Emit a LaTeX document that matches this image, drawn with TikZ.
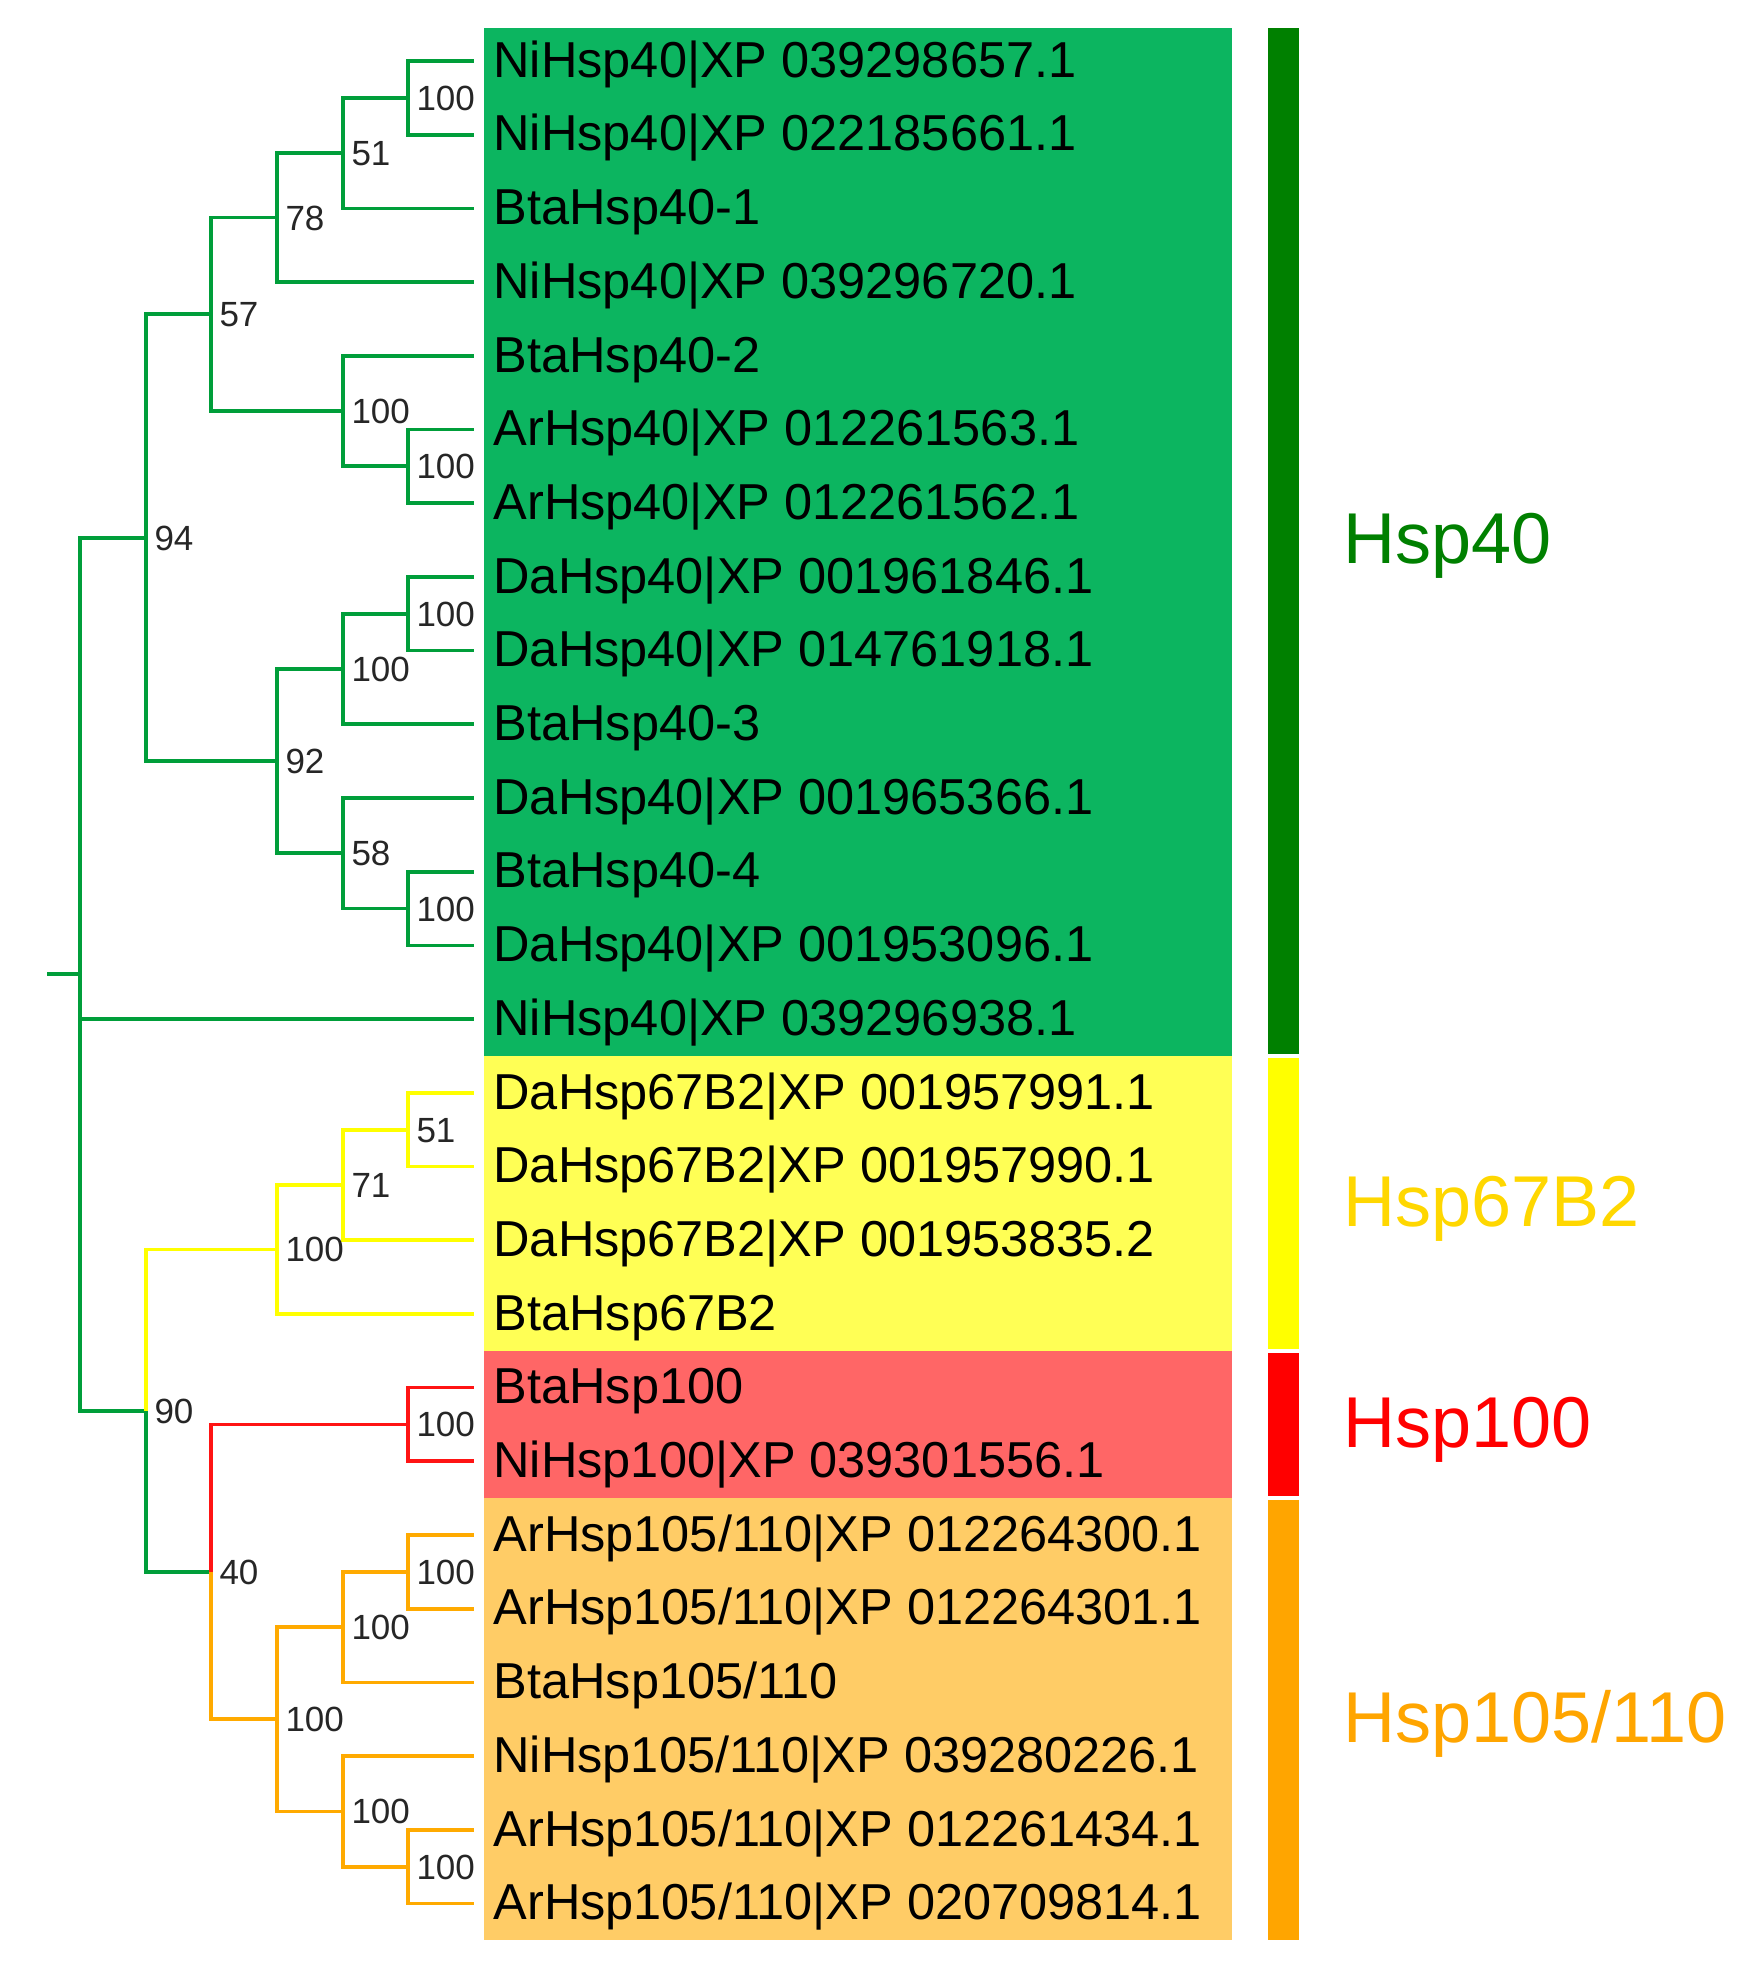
\documentclass[tikz,border=0pt]{standalone}
\usepackage{fontspec}
\setmainfont{Liberation Sans}
\definecolor{boxgreen}{RGB}{12,181,96}
\definecolor{boxyellow}{RGB}{255,255,85}
\definecolor{boxred}{RGB}{255,102,102}
\definecolor{boxorange}{RGB}{255,204,102}
\definecolor{bargreen}{RGB}{0,128,0}
\definecolor{baryellow}{RGB}{255,255,0}
\definecolor{barred}{RGB}{255,0,0}
\definecolor{barorange}{RGB}{255,165,0}
\definecolor{treegreen}{RGB}{0,158,58}
\definecolor{treeyellow}{RGB}{255,255,0}
\definecolor{treered}{RGB}{255,20,20}
\definecolor{treeorange}{RGB}{255,170,0}
\definecolor{labelgold}{RGB}{255,215,0}
\begin{document}
\begin{tikzpicture}[x=0.4pt, y=-29.48pt,
    branch/.style={line width=1.5pt},
    leaf/.style={anchor=base west, inner sep=0pt, xshift=7.6pt, yshift=-6.5pt,
        font=\fontsize{20.2pt}{22pt}\selectfont},
    boot/.style={anchor=base west, inner sep=0pt, xshift=3.2pt, yshift=-5pt,
        text=black!85, font=\fontsize{14pt}{15pt}\selectfont},
    group/.style={anchor=base west, inner sep=0pt, yshift=-9.4pt,
        font=\fontsize{28.8pt}{32pt}\selectfont}]
    \useasboundingbox (0,-0.8277) rectangle (1747,26.065);
    % hatter a nevek mogott
    \fill[boxgreen] (484,-0.45) rectangle (1232,13.5);
    \fill[boxyellow] (484,13.5) rectangle (1232,17.5);
    \fill[boxred] (484,17.5) rectangle (1232,19.5);
    \fill[boxorange] (484,19.5) rectangle (1232,25.5);
    % csoport savok jobb oldalt
    \fill[bargreen] (1268,-0.45) rectangle (1299,13.47);
    \fill[baryellow] (1268,13.53) rectangle (1299,17.47);
    \fill[barred] (1268,17.53) rectangle (1299,19.47);
    \fill[barorange] (1268,19.53) rectangle (1299,25.5);
    \node[group, text=bargreen] (g40) at (1343,6.5) {Hsp40};
    \node[group, text=labelgold] (g67) at (1343,15.5) {Hsp67B2};
    \node[group, text=barred] (g100) at (1343,18.5) {Hsp100};
    \node[group, text=barorange] (g105) at (1343,22.5) {Hsp105/110};
    % levelek
    \foreach \name [count=\i from 0] in {NiHsp40|XP 039298657.1, NiHsp40|XP 022185661.1,
        BtaHsp40-1, NiHsp40|XP 039296720.1, BtaHsp40-2, ArHsp40|XP 012261563.1,
        ArHsp40|XP 012261562.1, DaHsp40|XP 001961846.1, DaHsp40|XP 014761918.1,
        BtaHsp40-3, DaHsp40|XP 001965366.1, BtaHsp40-4, DaHsp40|XP 001953096.1,
        NiHsp40|XP 039296938.1, DaHsp67B2|XP 001957991.1, DaHsp67B2|XP 001957990.1,
        DaHsp67B2|XP 001953835.2, BtaHsp67B2, BtaHsp100, NiHsp100|XP 039301556.1,
        ArHsp105/110|XP 012264300.1, ArHsp105/110|XP 012264301.1, BtaHsp105/110,
        NiHsp105/110|XP 039280226.1, ArHsp105/110|XP 012261434.1,
        ArHsp105/110|XP 020709814.1}
    {
        \coordinate (t\i) at (474,\i);
        \node[leaf] (l\i) at (t\i) {\name};
    }
    % belso csucsok: szint x = 80 + 65.7*szint
    \coordinate (stub) at (47,12.390625);
    \coordinate (root) at (80,12.390625);
    \coordinate (n1) at (408,0.5);
    \coordinate (n2) at (343,1.25);
    \coordinate (n3) at (277,2.125);
    \coordinate (n4) at (408,5.5);
    \coordinate (n5) at (343,4.75);
    \coordinate (n6) at (211,3.4375);
    \coordinate (n7) at (408,7.5);
    \coordinate (n8) at (343,8.25);
    \coordinate (n9) at (408,11.5);
    \coordinate (n10) at (343,10.75);
    \coordinate (n11) at (277,9.5);
    \coordinate (n12) at (146,6.46875);
    \coordinate (n13) at (408,14.5);
    \coordinate (n14) at (343,15.25);
    \coordinate (n15) at (277,16.125);
    \coordinate (n16) at (408,18.5);
    \coordinate (n17) at (408,20.5);
    \coordinate (n18) at (343,21.25);
    \coordinate (n19) at (408,24.5);
    \coordinate (n20) at (343,23.75);
    \coordinate (n21) at (277,22.5);
    \coordinate (n22) at (211,20.5);
    \coordinate (n23) at (146,18.3125);
    % agak
    \draw[branch, treegreen] (stub) -- (root);
    \foreach \a/\b in {root/n12, root/t13, root/n23, n12/n6, n12/n11, n6/n3, n6/n5,
        n3/n2, n3/t3, n2/n1, n2/t2, n1/t0, n1/t1, n5/t4, n5/n4, n4/t5, n4/t6,
        n11/n8, n11/n10, n8/n7, n8/t9, n7/t7, n7/t8, n10/t10, n10/n9, n9/t11, n9/t12,
        n23/n22}
        \draw[branch, treegreen] (\a) |- (\b);
    \foreach \a/\b in {n23/n15, n15/n14, n15/t17, n14/n13, n14/t16, n13/t14, n13/t15}
        \draw[branch, treeyellow] (\a) |- (\b);
    \foreach \a/\b in {n22/n16, n16/t18, n16/t19}
        \draw[branch, treered] (\a) |- (\b);
    \foreach \a/\b in {n22/n21, n21/n18, n21/n20, n18/n17, n18/t22, n17/t20, n17/t21,
        n20/t23, n20/n19, n19/t24, n19/t25}
        \draw[branch, treeorange] (\a) |- (\b);
    % bootstrap ertekek
    \foreach \c/\v in {n1/100, n2/51, n3/78, n4/100, n5/100, n6/57, n7/100, n8/100,
        n9/100, n10/58, n11/92, n12/94, n13/51, n14/71, n15/100, n16/100, n17/100,
        n18/100, n19/100, n20/100, n21/100, n22/40, n23/90}
        \node[boot] (b\c) at (\c) {\v};
\end{tikzpicture}
\end{document}
